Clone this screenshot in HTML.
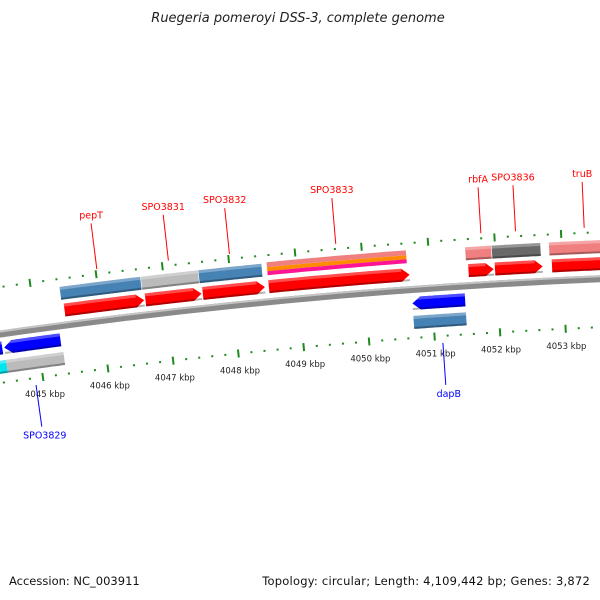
<!DOCTYPE html>
<html><head><meta charset="utf-8"><style>
html,body{margin:0;padding:0;background:#fff;}
svg{display:block;font-family:"DejaVu Sans","Liberation Sans",sans-serif;}
</style></head><body>
<svg id="map" width="600" height="600" viewBox="0 0 600 600">
<text x="298" y="22" text-anchor="middle" font-size="13" font-style="italic" fill="#222">Ruegeria pomeroyi DSS-3, complete genome</text>
<text x="9" y="585" font-size="11.5" fill="#111">Accession: NC_003911</text>
<text x="590" y="585" text-anchor="end" font-size="11.5" letter-spacing="0.22" fill="#111">Topology: circular; Length: 4,109,442 bp; Genes: 3,872</text>
<g id="plot"></g>
</svg>
<script>
// data (kbp)
const fwdStarts = [4045.46, 4046.69, 4047.56, 4048.56, 4051.58, 4051.98, 4052.84];
const fwdEnds   = [4046.67, 4047.54, 4048.50, 4050.69, 4051.96, 4052.70, 4054.20];
const fwdCog    = ['#4682b4','#bbbbbb','#4682b4','multi','#f08080','#696969','#f08080'];
const revStarts = [4043.40, 4044.48, 4050.70];
const revEnds   = [4044.45, 4045.34, 4051.50];
const revCog    = ['#00e5ee','#bbbbbb','#4682b4'];
const revCog2Start = [4044.26, 4044.48, 4050.70];
const revCog2End   = [4044.48, 4045.36, 4051.50];
const labelNames = ['pepT','SPO3831','SPO3832','SPO3833','rbfA','SPO3836','truB'];
const labelKbp   = [4046.02, 4047.10, 4048.02, 4049.62, 4051.80, 4052.32, 4053.35];
const revLabelNames = ['SPO3829','dapB'];
const revLabelKbp   = [4044.88, 4051.12];
const tickStart = 4042.0, tickEnd = 4055.0, tickStep = 0.2;
const tickLabels = ['4045 kbp','4046 kbp','4047 kbp','4048 kbp','4049 kbp','4050 kbp','4051 kbp','4052 kbp','4053 kbp'];
const tickLabelKbp = [4045,4046,4047,4048,4049,4050,4051,4052,4053];

const CX=850, CY=6273;
const NS='http://www.w3.org/2000/svg';
const plot=document.getElementById('plot');
function ang(k){return (-7.795+0.632*(k-4045))*Math.PI/180;}
function pt(k,r){const a=ang(k);return [CX+r*Math.sin(a), CY-r*Math.cos(a)];}
function mk(tag,attrs){const e=document.createElementNS(NS,tag);for(const k in attrs)e.setAttribute(k,attrs[k]);plot.appendChild(e);return e;}
function band(k1,k2,r1,r2,dir){
  const head=8/(6000*0.632*Math.PI/180);
  const rm=(r1+r2)/2; let p=[];
  let a1=k1,a2=k2;
  if(dir===1)a2=Math.max(k1,k2-head); if(dir===-1)a1=Math.min(k2,k1+head);
  const n=20;
  for(let i=0;i<=n;i++)p.push(pt(a1+(a2-a1)*i/n,r2));
  if(dir===1)p.push(pt(k2,rm));
  for(let i=n;i>=0;i--)p.push(pt(a1+(a2-a1)*i/n,r1));
  if(dir===-1)p.push(pt(k1,rm));
  return p.map(q=>q[0].toFixed(1)+','+q[1].toFixed(1)).join(' ');
}
let bb=mk('polygon',{points:band(4040,4056,5996,6003,0),fill:'#8a8a8a'});


let bb2=mk('polygon',{points:band(4040,4056,6001,6003,0),fill:'#c4c4c4'});


for(let k=tickStart;k<=tickEnd+1e-6;k+=tickStep){
  const major=Math.abs(k-Math.round(k))<1e-6;
  [[6046,'upper'],[5951,'lower']].forEach(([r,w])=>{
    const h=major?4:1;
    const a=pt(k,r-h),b=pt(k,r+h);
    const t=mk('line',{x1:a[0],y1:a[1],x2:b[0],y2:b[1],stroke:'#1f8a1f','stroke-width':2});
    
    
  });
}
tickLabels.forEach((s,i)=>{
  const p=pt(tickLabelKbp[i],5935);
  const t=mk('text',{x:p[0],y:p[1]+4,'text-anchor':'middle','font-size':8.5,fill:'#222'});
  t.textContent=s;
  
  
});
function gene(k1,k2,r1,r2,dir,color,name){
  const g=mk('polygon',{points:band(k1,k2,r1,r2,dir),fill:color});
  
  
  const s=mk('polygon',{points:band(k1,k2,r1,r1+2,0),fill:'rgba(0,0,0,0.3)'});
  
  
  const h=mk('polygon',{points:band(k1,k2-(dir===1?0.12:0),r2-3,r2,0),fill:'rgba(255,255,255,0.3)'});
  
  
}
fwdStarts.forEach((s,i)=>{
  gene(s,fwdEnds[i],6008,6021,1,'#ff0000','forward-gene');
  if(fwdCog[i]==='multi'){
    let e=fwdEnds[i]-0.03;
    let a=mk('polygon',{points:band(s,e,6034,6039,0),fill:'#f08080'});
    a=mk('polygon',{points:band(s,e,6030,6034,0),fill:'#ff8c00'});
    a=mk('polygon',{points:band(s,e,6026,6030,0),fill:'#ff1493'});
  } else gene(s-0.03,fwdEnds[i]-0.02,6025,6038,0,fwdCog[i],'forward-cog');
});
revStarts.forEach((s,i)=>{
  gene(s,revEnds[i],5979,5992,-1,'#0000ff','reverse-gene');
  gene(revCog2Start[i],revCog2End[i],5960,5973,0,revCog[i],'reverse-cog');
});
labelNames.forEach((n,i)=>{
  const a=pt(labelKbp[i],6051),b=pt(labelKbp[i],6097);
  const l=mk('line',{x1:a[0],y1:a[1],x2:b[0],y2:b[1],stroke:'#ff0000','stroke-width':1});
  
  
  const t=mk('text',{x:b[0],y:b[1]-5,'text-anchor':'middle','font-size':9.5,fill:'#ff0000'});
  t.textContent=n;
  
  
});
revLabelNames.forEach((n,i)=>{
  const a=pt(revLabelKbp[i],5944),b=pt(revLabelKbp[i],5902);
  const l=mk('line',{x1:a[0],y1:a[1],x2:b[0],y2:b[1],stroke:'#0000ff','stroke-width':1});
  
  
  const t=mk('text',{x:b[0]+3,y:b[1]+12,'text-anchor':'middle','font-size':9.5,fill:'#0000ff'});
  t.textContent=n;
  
  
});
</script>
</body></html>
